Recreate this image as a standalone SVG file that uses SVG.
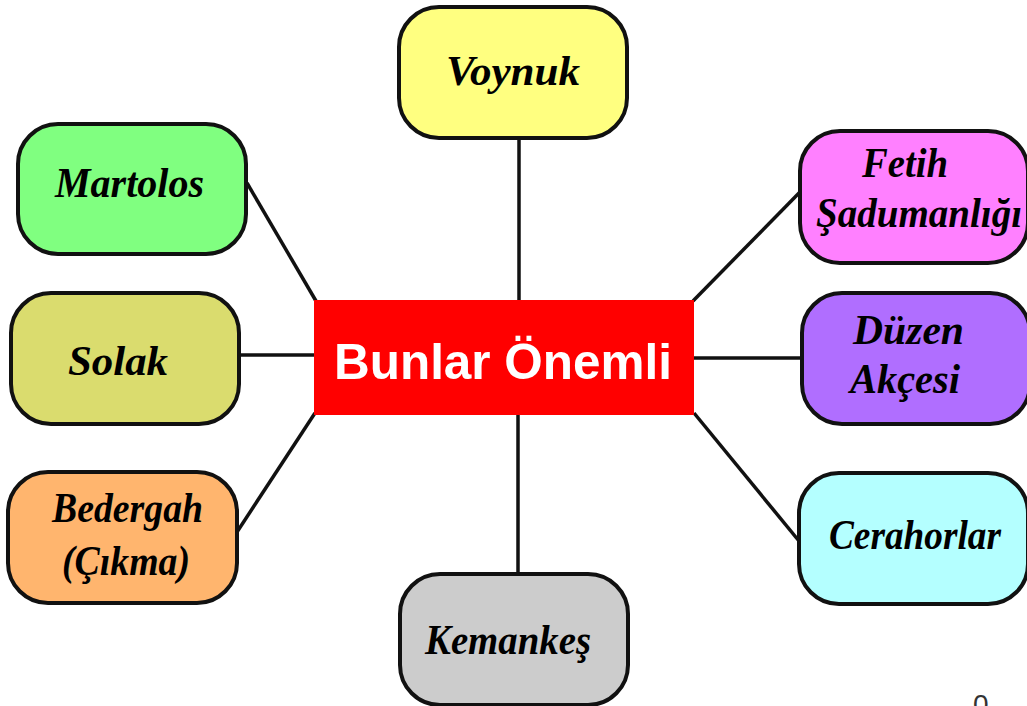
<svg xmlns="http://www.w3.org/2000/svg" width="1027" height="706" viewBox="0 0 1027 706">
<style>
.n{stroke:#111;stroke-width:4}
.t{font-family:"Liberation Serif","DejaVu Serif",serif;font-style:italic;font-weight:bold;font-size:42px;fill:#000}
.c line{stroke:#111;stroke-width:3.5}
</style>
<rect width="1027" height="706" fill="#fff"/>
<g class="c" id="connectors">
<line x1="519" y1="138" x2="519" y2="301"/>
<line x1="518" y1="413" x2="518" y2="574"/>
<line x1="247" y1="183" x2="316" y2="301"/>
<line x1="240" y1="355" x2="315" y2="355"/>
<line x1="237" y1="532" x2="315" y2="413"/>
<line x1="800" y1="192" x2="693" y2="301"/>
<line x1="802" y1="358" x2="694" y2="358"/>
<line x1="799" y1="541" x2="694" y2="413"/>
</g>
<g id="center"><rect x="314" y="300" width="380" height="115" fill="#ff0000"/><text x="334" y="379" textLength="338" lengthAdjust="spacingAndGlyphs" font-family="Liberation Sans,sans-serif" font-weight="bold" font-size="50" fill="#fff">Bunlar Önemli</text></g>
<g id="voynuk"><rect class="n" x="399" y="7" width="228" height="131" rx="40" fill="#ffff80"/><text class="t" x="446" y="85" textLength="134" lengthAdjust="spacingAndGlyphs">Voynuk</text></g>
<g id="martolos"><rect class="n" x="18" y="124" width="228" height="130" rx="40" fill="#80ff80"/><text class="t" x="55" y="197" textLength="149" lengthAdjust="spacingAndGlyphs">Martolos</text></g>
<g id="solak"><rect class="n" x="11" y="293" width="228" height="131" rx="40" fill="#dadc6e"/><text class="t" x="68" y="375" textLength="100" lengthAdjust="spacingAndGlyphs">Solak</text></g>
<g id="bedergah"><rect class="n" x="8" y="472" width="229" height="131" rx="40" fill="#ffb56e"/><text class="t" x="52" y="522" textLength="151" lengthAdjust="spacingAndGlyphs">Bedergah</text><text class="t" x="62" y="575" textLength="128" lengthAdjust="spacingAndGlyphs">(Çıkma)</text></g>
<g id="fetih"><rect class="n" x="800" y="131" width="228" height="132" rx="40" fill="#ff80ff"/><text class="t" x="862" y="177" textLength="86" lengthAdjust="spacingAndGlyphs">Fetih</text><text class="t" x="816" y="227" textLength="206" lengthAdjust="spacingAndGlyphs">Şadumanlığı</text></g>
<g id="duzen"><rect class="n" x="802" y="293" width="228" height="131" rx="40" fill="#b06eff"/><text class="t" x="853" y="344" textLength="111" lengthAdjust="spacingAndGlyphs">Düzen</text><text class="t" x="850" y="393" textLength="110" lengthAdjust="spacingAndGlyphs">Akçesi</text></g>
<g id="cerahorlar"><rect class="n" x="799" y="473" width="229" height="131" rx="40" fill="#b4ffff"/><text class="t" x="829" y="549" textLength="172" lengthAdjust="spacingAndGlyphs">Cerahorlar</text></g>
<g id="kemankes"><rect class="n" x="400" y="574" width="228" height="131" rx="40" fill="#cccccc"/><text class="t" x="425" y="654" textLength="166" lengthAdjust="spacingAndGlyphs">Kemankeş</text></g>
<text x="973" y="714" font-family="Liberation Sans,sans-serif" font-size="28" fill="#333">0</text>
</svg>
